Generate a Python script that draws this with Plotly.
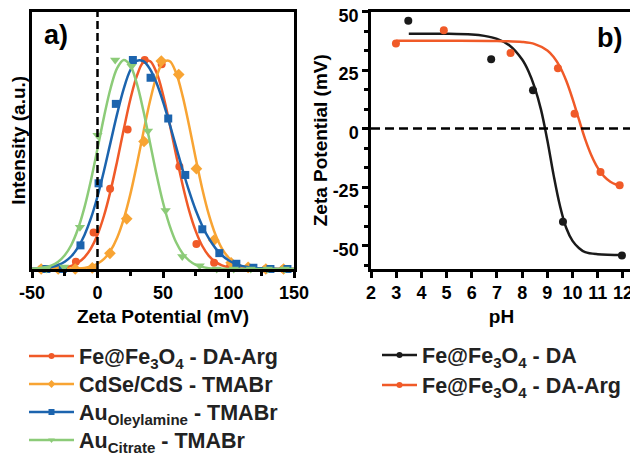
import plotly.graph_objects as go

# ---------------- Panel a data ----------------
zeta_grid = [-50, -45, -40, -35, -30, -25, -20, -15, -10, -5, 0, 5, 10, 15, 20, 25, 30, 35, 40, 45,
             50, 55, 60, 65, 70, 75, 80, 85, 90, 95, 100, 105, 110, 115, 120, 125, 130, 135, 140, 145, 150]
fe_fit = [0, 0, 0.001, 0.001, 0.003, 0.007, 0.015, 0.03, 0.056, 0.099,
          0.164, 0.256, 0.375, 0.516, 0.667, 0.81, 0.923, 0.989, 0.995, 0.941,
          0.835, 0.697, 0.546, 0.402, 0.278, 0.181, 0.11, 0.063, 0.034, 0.017,
          0.008, 0.004, 0.002, 0.001, 0, 0, 0, 0, 0, 0, 0]
cds_fit = [0, 0, 0, 0, 0, 0, 0.001, 0.002, 0.005, 0.012,
           0.025, 0.048, 0.088, 0.15, 0.239, 0.356, 0.499, 0.653, 0.801, 0.919,
           0.988, 0.995, 0.938, 0.827, 0.684, 0.529, 0.383, 0.26, 0.165, 0.098,
           0.055, 0.028, 0.014, 0.006, 0.003, 0.001, 0, 0, 0, 0, 0]
auo_fit = [0.001, 0.002, 0.005, 0.01, 0.019, 0.035, 0.061, 0.102, 0.162, 0.243,
           0.347, 0.471, 0.607, 0.742, 0.862, 0.951, 0.996, 0.994, 0.957, 0.891,
           0.801, 0.696, 0.584, 0.474, 0.371, 0.281, 0.206, 0.146, 0.10, 0.066,
           0.042, 0.026, 0.015, 0.009, 0.005, 0.003, 0.001, 0.001, 0, 0, 0]
auc_fit = [0.001, 0.004, 0.008, 0.017, 0.035, 0.066, 0.115, 0.19, 0.294, 0.425,
           0.575, 0.729, 0.865, 0.961, 1.0, 0.974, 0.888, 0.758, 0.607, 0.454,
           0.318, 0.209, 0.128, 0.074, 0.04, 0.02, 0.01, 0.004, 0.002, 0.001,
           0, 0, 0, 0, 0, 0, 0, 0, 0, 0, 0]

fe_x = [-43, -29.5, -16.5, -3, 9.6, 23, 36, 49, 62.5, 75.5, 89, 101, 115, 128.5, 142]
fe_y = [0, 0, 0.035, 0.175, 0.384, 0.667, 1.0, 0.98, 0.49, 0.12, 0.03, 0.01, 0.004, 0, 0]
cds_x = [-43, -30, -17, -4, 9.5, 22.3, 35.5, 48.7, 62, 75.5, 88.8, 102, 115, 128.5, 142]
cds_y = [0, 0, 0, 0.005, 0.075, 0.24, 0.61, 0.995, 0.93, 0.48, 0.137, 0.03, 0.008, 0, 0]
auo_x = [-39, -26.5, -13, 0.8, 14, 27, 40.5, 54, 67, 80, 93, 106, 119, 132, 145]
auo_y = [0, 0, 0.113, 0.41, 0.79, 1.0, 0.915, 0.72, 0.45, 0.19, 0.076, 0.025, 0.006, 0, 0]
auc_x = [-39, -25.5, -13.4, 0, 13.5, 26, 38.5, 52, 64.7, 78, 91, 104, 117, 130, 143]
auc_y = [0, 0.01, 0.2, 0.64, 1.0, 0.97, 0.66, 0.28, 0.06, 0.015, 0, 0, 0, 0, 0]

names_a = ["Fe@Fe<sub>3</sub>O<sub>4</sub> - DA-Arg", "CdSe/CdS - TMABr",
           "Au<sub>Oleylamine</sub> - TMABr", "Au<sub>Citrate</sub> - TMABr"]
a_xticks = [-50, 0, 50, 100, 150]
a_xticktext = ["-50", "0", "50", "100", "150"]

# ---------------- Panel b data ----------------
ph_da = [3.48, 6.77, 8.43, 9.62, 11.96]
zeta_da = [46.1, 29.6, 16.4, -39.8, -54.2]
ph_arg = [2.99, 4.89, 7.54, 9.42, 10.08, 11.11, 11.87]
zeta_arg = [36.3, 42.0, 32.3, 25.8, 6.3, -18.6, -24.2]

da_fit_ph = [3.5, 5, 6, 6.5, 7, 7.5, 8, 8.25, 8.5, 8.75, 9, 9.25, 9.5, 9.75, 10, 10.25, 10.5, 11, 12]
da_fit_z = [40.5, 40.5, 40.2, 39.6, 38.3, 35.5, 29.5, 24.5, 17.5, 8, -5, -20, -33, -42.5, -48, -51, -52.8, -53.7, -54]
arg_fit_ph = [3, 5, 7, 8, 8.5, 9, 9.25, 9.5, 9.75, 10, 10.25, 10.5, 10.75, 11, 11.25, 11.5, 11.75, 11.9]
arg_fit_z = [37.5, 37.5, 37.4, 37.0, 36.1, 33.4, 30.6, 26.4, 20.4, 12.7, 4.0, -4.5, -11.5, -16.8, -20.4, -22.7, -24.0, -24.5]

names_b = ["Fe@Fe<sub>3</sub>O<sub>4</sub> - DA", "Fe@Fe<sub>3</sub>O<sub>4</sub> - DA-Arg"]
b_xticks = [2, 3, 4, 5, 6, 7, 8, 9, 10, 11, 12]
b_yticks = [-50, -25, 0, 25, 50]
b_yticktext = ["-50", "-25", "0", "25", "50"]

# ---------------- Styles / geometry ----------------
RED = "#F05A28"
ORANGE = "#F8A433"
BLUE = "#1C64AE"
GREEN = "#8CCB78"
BLACK = "#1a1a1a"
FONT = "Liberation Sans"

W, H = 630, 446   # page has an 8 px body margin


def px(sx):   # screen x -> paper fraction
    return (sx - 8) / W


def py(sy):   # screen y -> paper fraction
    return 1 - (sy - 8) / H


fig = go.Figure()

legend_names_a = ["legend", "legend3", "legend4", "legend5"]
legend_rows_a = [356, 384, 412, 440]
legend_names_b = ["legend2", "legend6"]
legend_rows_b = [355, 385]

series_a = [
    (fe_fit, fe_x, fe_y, RED, "circle", 8, names_a[0]),
    (cds_fit, cds_x, cds_y, ORANGE, "diamond", 9, names_a[1]),
    (auo_fit, auo_x, auo_y, BLUE, "square", 8, names_a[2]),
    (auc_fit, auc_x, auc_y, GREEN, "triangle-down", 9, names_a[3]),
]
for fit, mx, my, col, sym, sz, nm in series_a:
    fig.add_trace(go.Scatter(x=zeta_grid, y=fit, mode="lines", line=dict(color=col, width=2.5, shape="spline"),
                             showlegend=False, xaxis="x", yaxis="y", cliponaxis=False, hoverinfo="skip"))
    fig.add_trace(go.Scatter(x=mx, y=my, mode="markers", marker=dict(color=col, symbol=sym, size=sz),
                             showlegend=False, xaxis="x", yaxis="y", cliponaxis=False))
for (fit, mx, my, col, sym, sz, nm), lg in zip(series_a, legend_names_a):
    fig.add_trace(go.Scatter(x=[None], y=[None], mode="lines+markers", name=nm,
                             line=dict(color=col, width=2.5), marker=dict(color=col, symbol=sym, size=6),
                             legend=lg, xaxis="x", yaxis="y"))

series_b = [
    (da_fit_ph, da_fit_z, ph_da, zeta_da, BLACK, names_b[0]),
    (arg_fit_ph, arg_fit_z, ph_arg, zeta_arg, RED, names_b[1]),
]
for fx, fy, mx, my, col, nm in series_b:
    fig.add_trace(go.Scatter(x=fx, y=fy, mode="lines", line=dict(color=col, width=2.5, shape="spline"),
                             showlegend=False, xaxis="x2", yaxis="y2", hoverinfo="skip"))
    fig.add_trace(go.Scatter(x=mx, y=my, mode="markers", marker=dict(color=col, size=8),
                             showlegend=False, xaxis="x2", yaxis="y2", cliponaxis=False))
for (fx, fy, mx, my, col, nm), lg in zip(series_b, legend_names_b):
    fig.add_trace(go.Scatter(x=[None], y=[None], mode="lines+markers", name=nm,
                             line=dict(color=col, width=2.5), marker=dict(color=col, size=6),
                             legend=lg, xaxis="x2", yaxis="y2"))

xa = [px(32), px(294)]
xb = [px(371), px(632)]
yd = [py(269), py(11.5)]

tickfont = dict(family=FONT, size=18, color="black", weight="bold")
titlefont = dict(family=FONT, size=19, color="black", weight="bold")
axis_common = dict(showline=True, linewidth=2.5, linecolor="black", mirror=True, showgrid=False,
                   zeroline=False, ticks="outside", ticklen=6, tickwidth=2.5, tickcolor="black",
                   tickfont=tickfont, automargin=False)

legend_font = dict(family=FONT, size=21.5, color="#222", weight="bold")
legends = {}
for lg, row in zip(legend_names_a, legend_rows_a):
    legends[lg] = dict(x=px(24), y=py(row), xanchor="left", yanchor="middle", itemwidth=45,
                       font=legend_font, bgcolor="rgba(0,0,0,0)", itemclick=False, borderwidth=0)
for lg, row in zip(legend_names_b, legend_rows_b):
    legends[lg] = dict(x=px(377), y=py(row), xanchor="left", yanchor="middle", itemwidth=35,
                       font=legend_font, bgcolor="rgba(0,0,0,0)", itemclick=False, borderwidth=0)

fig.update_layout(
    width=W, height=H, margin=dict(l=0, r=0, t=0, b=0, autoexpand=False),
    paper_bgcolor="white", plot_bgcolor="white",
    font=dict(family=FONT, color="black"),
    xaxis=dict(domain=xa, range=[-50, 150], tickvals=a_xticks, ticktext=a_xticktext, anchor="y",
               minor=dict(dtick=25, tick0=0, ticks="outside", ticklen=4, tickwidth=2.5, tickcolor="black"),
               title=dict(text="Zeta Potential (mV)", font=titlefont, standoff=8), **axis_common),
    yaxis=dict(domain=yd, range=[0, 1.232], anchor="x", showticklabels=False,
               **{k: v for k, v in axis_common.items() if k not in ("ticks",)}, ticks="",
               title=dict(text="Intensity (a.u.)", font=titlefont, standoff=3)),
    xaxis2=dict(domain=xb, range=[2, 12.36], tickvals=b_xticks, anchor="y2",
                title=dict(text="pH", font=titlefont, standoff=8), **axis_common),
    yaxis2=dict(domain=yd, range=[-60, 50.02], tickvals=b_yticks, ticktext=b_yticktext, anchor="x2",
                ticklabeloverflow="allow", ticklabelshift=4,
                minor=dict(dtick=25 / 3, tick0=0, ticks="outside", ticklen=4, tickwidth=2.5, tickcolor="black"),
                title=dict(text="Zeta Potential (mV)", font=titlefont, standoff=0), **axis_common),
    shapes=[
        dict(type="line", xref="x", yref="y domain", x0=0, x1=0, y0=0, y1=1,
             line=dict(color="black", width=2.5, dash="8px,4px")),
        dict(type="line", xref="x2 domain", yref="y2", x0=0, x1=1, y0=0, y1=0,
             line=dict(color="black", width=2.5, dash="9px,5px")),
    ],
    annotations=[
        dict(text="a)", xref="paper", yref="paper", x=px(42), y=py(18), xanchor="left", yanchor="top",
             showarrow=False, font=dict(family=FONT, size=27, color="black", weight="bold")),
        dict(text="b)", xref="paper", yref="paper", x=px(624), y=py(21), xanchor="right", yanchor="top",
             showarrow=False, font=dict(family=FONT, size=27, color="black", weight="bold")),
    ],
    **legends,
)

fig.write_html("out.html")
